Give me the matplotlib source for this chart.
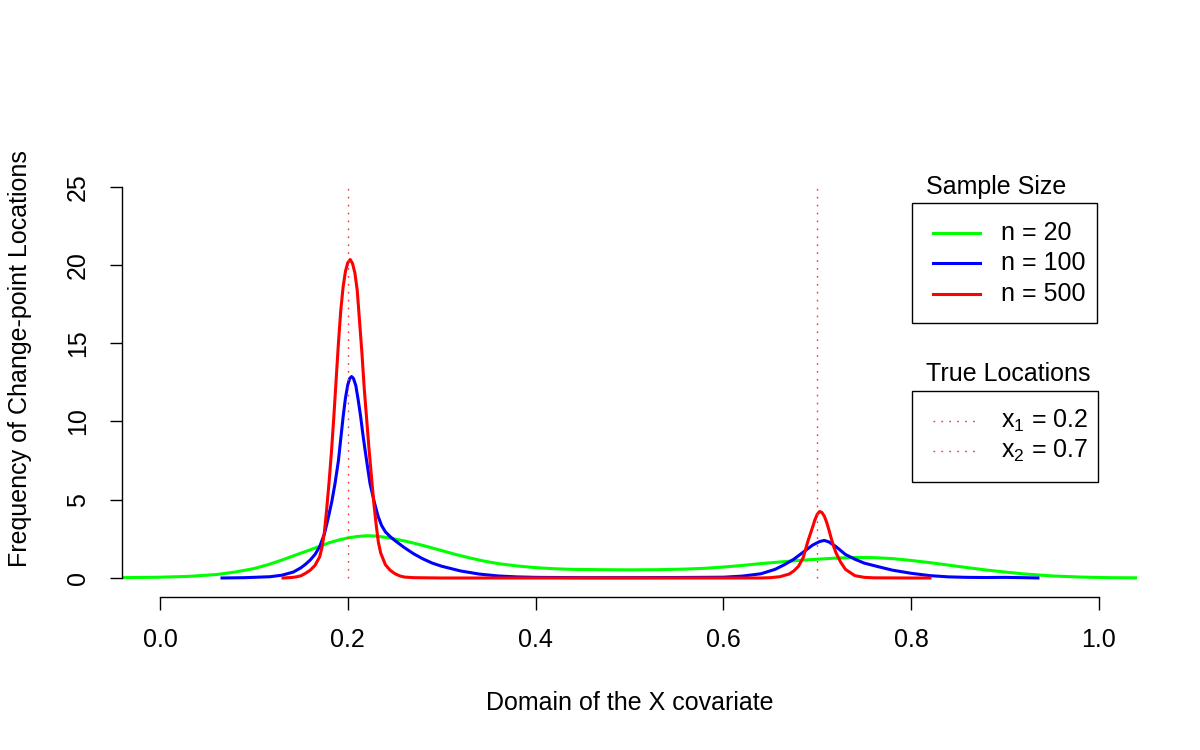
import matplotlib
matplotlib.use("Agg")
import matplotlib.pyplot as plt
from matplotlib.patches import Rectangle
from matplotlib.lines import Line2D

plt.rcParams['font.family'] = ['Liberation Sans', 'DejaVu Sans']
plt.rcParams['mathtext.fontset'] = 'custom'
plt.rcParams['mathtext.rm'] = 'Liberation Sans'

# density estimates
x_n20 = [-0.04, 0.0, 0.03, 0.06, 0.08, 0.10, 0.115, 0.13, 0.145, 0.16, 0.17, 0.18,
         0.19, 0.20, 0.21, 0.22, 0.23, 0.24, 0.25, 0.26, 0.27, 0.28, 0.30, 0.315,
         0.33, 0.345, 0.36, 0.38, 0.40, 0.42, 0.44, 0.47, 0.50, 0.53, 0.56, 0.58,
         0.60, 0.62, 0.64, 0.66, 0.68, 0.70, 0.72, 0.74, 0.76, 0.78, 0.80, 0.82,
         0.84, 0.86, 0.88, 0.90, 0.92, 0.95, 0.98, 1.01, 1.04]
y_n20 = [0.02, 0.05, 0.10, 0.22, 0.38, 0.60, 0.85, 1.15, 1.48, 1.80, 2.02, 2.25,
         2.42, 2.56, 2.65, 2.70, 2.68, 2.60, 2.49, 2.37, 2.23, 2.08, 1.75, 1.50,
         1.28, 1.08, 0.92, 0.77, 0.66, 0.59, 0.55, 0.53, 0.52, 0.53, 0.57, 0.62,
         0.70, 0.80, 0.92, 1.02, 1.12, 1.20, 1.27, 1.31, 1.30, 1.24, 1.12, 0.98,
         0.82, 0.66, 0.51, 0.38, 0.26, 0.13, 0.06, 0.02, 0.01]

x_n100 = [0.066, 0.09, 0.117, 0.13, 0.142, 0.15, 0.155, 0.16, 0.165, 0.17, 0.175,
          0.179, 0.183, 0.1864, 0.19, 0.1925, 0.195, 0.1975, 0.20, 0.202, 0.204,
          0.206, 0.2085, 0.211, 0.2137, 0.216, 0.2183, 0.221, 0.2236, 0.228, 0.2322,
          0.236, 0.24, 0.245, 0.25, 0.26, 0.27, 0.28, 0.29, 0.30, 0.32, 0.34, 0.36,
          0.38, 0.40, 0.45, 0.50, 0.55, 0.60, 0.62, 0.64, 0.655, 0.665, 0.675,
          0.685, 0.695, 0.7025, 0.7075, 0.7125, 0.72, 0.73, 0.74, 0.75, 0.765,
          0.78, 0.80, 0.82, 0.84, 0.86, 0.88, 0.90, 0.92, 0.935]
y_n100 = [0.0, 0.02, 0.08, 0.18, 0.38, 0.65, 0.88, 1.15, 1.50, 2.00, 2.80,
          3.80, 4.90, 6.05, 7.50, 8.90, 10.3, 11.5, 12.35, 12.75, 12.87,
          12.75, 12.3, 11.4, 10.3, 9.20, 8.20, 7.10, 6.05, 4.90, 3.95,
          3.35, 2.95, 2.65, 2.40, 1.95, 1.55, 1.22, 0.95, 0.75, 0.45, 0.25, 0.13,
          0.07, 0.04, 0.02, 0.02, 0.03, 0.05, 0.12, 0.27, 0.55, 0.85, 1.20,
          1.65, 2.10, 2.33, 2.40, 2.30, 2.00, 1.50, 1.20, 0.95, 0.72,
          0.50, 0.30, 0.15, 0.07, 0.04, 0.03, 0.04, 0.02, 0.0]

x_n500 = [0.131, 0.14, 0.145, 0.15, 0.155, 0.16, 0.165, 0.17, 0.1725, 0.175, 0.1775,
          0.18, 0.1825, 0.185, 0.1875, 0.19, 0.1925, 0.195, 0.1975, 0.20, 0.2025,
          0.205, 0.2075, 0.21, 0.2125, 0.215, 0.2175, 0.22, 0.2225, 0.225, 0.2275,
          0.23, 0.2325, 0.235, 0.24, 0.245, 0.25, 0.255, 0.26, 0.27, 0.30, 0.40,
          0.50, 0.60, 0.64, 0.65, 0.66, 0.67, 0.675, 0.68, 0.685, 0.69, 0.695,
          0.6975, 0.70, 0.7025, 0.705, 0.7075, 0.71, 0.7125, 0.715, 0.7175, 0.72,
          0.725, 0.73, 0.74, 0.75, 0.76, 0.80, 0.82]
y_n500 = [0.0, 0.03, 0.07, 0.14, 0.30, 0.50, 0.80, 1.35, 1.95, 2.90, 4.40,
          6.10, 8.00, 10.2, 12.6, 15.0, 17.1, 18.6, 19.6, 20.15, 20.35,
          20.1, 19.5, 18.4, 16.4, 14.4, 12.1, 10.2, 8.30, 6.60, 4.90,
          3.50, 2.30, 1.60, 0.85, 0.50, 0.28, 0.14, 0.06, 0.02, 0.0, 0.0,
          0.0, 0.0, 0.0, 0.02, 0.08, 0.25, 0.45, 0.75, 1.30, 2.35, 3.25,
          3.72, 4.08, 4.25, 4.18, 3.95, 3.55, 3.05, 2.50, 2.00, 1.60,
          1.00, 0.55, 0.15, 0.04, 0.01, 0.0, 0.0]

series_labels = ['n = 20', 'n = 100', 'n = 500']
series_colors = ['#00ff00', '#0000ff', '#ff0000']
true_locs = [0.2, 0.7]
true_labels = [r'$\mathregular{x_1}$ = 0.2', r'$\mathregular{x_2}$ = 0.7']
yticks = [0, 5, 10, 15, 20, 25]
xticks = [0.0, 0.2, 0.4, 0.6, 0.8, 1.0]

fig = plt.figure(figsize=(12, 7.5), dpi=100)
W, H = 1200, 750
ax = fig.add_axes([122 / W, (H - 597) / H, (1137 - 122) / W, (597 - 121) / H])

for xs, ys, c in zip([x_n20, x_n100, x_n500], [y_n20, y_n100, y_n500], series_colors):
    ax.plot(xs, ys, color=c, lw=2.2, solid_joinstyle='round')

dot = (0, (1.2, 4.5))
ax.vlines(true_locs, 0, 25, colors='#ff3030', linestyles=[dot], lw=1.0, zorder=3)

ax.set_xlim(-0.0405, 1.0405)
ax.set_ylim(-1.215, 29.2)
for s in ['top', 'right']:
    ax.spines[s].set_visible(False)
ax.spines['left'].set_bounds(0, 25)
ax.spines['bottom'].set_bounds(0, 1)
for s in ['left', 'bottom']:
    ax.spines[s].set_linewidth(1.0)
ax.set_xticks(xticks)
ax.set_xticklabels(['%.1f' % v for v in xticks])
ax.set_yticks(yticks)
ax.set_yticklabels([str(v) for v in yticks], rotation=90, va='center')
ax.tick_params(axis='both', length=9, width=1.0, labelsize=18)
ax.tick_params(axis='x', pad=13)
ax.tick_params(axis='y', pad=14)

ax.set_xlabel('Domain of the X covariate', fontsize=18)
ax.xaxis.set_label_coords(0.5, -(703 - 597) / 476)
ax.xaxis.label.set_va('center')
ax.set_ylabel('Frequency of Change-point Locations', fontsize=18)
ax.yaxis.set_label_coords(-(122 - 20) / 1015, 0.5)
ax.yaxis.label.set_va('center')


def fx(px):
    return px / W


def fy(py):
    return 1 - py / H


# legend: sample size
fig.text(fx(996), fy(187), 'Sample Size', fontsize=18, ha='center', va='center')
fig.patches.append(Rectangle((fx(911.5), fy(323)), fx(1097) - fx(911.5), fy(203) - fy(323),
                             transform=fig.transFigure, fill=False, lw=1.0, ec='black'))
for i, (lab, c) in enumerate(zip(series_labels, series_colors)):
    yy = fy(233 + 30.5 * i)
    fig.lines.append(Line2D([fx(933), fx(980)], [yy, yy], transform=fig.transFigure,
                            color=c, lw=2.2))
    fig.text(fx(1001), yy, lab, fontsize=18, ha='left', va='center')

# legend: true locations
fig.text(fx(1008), fy(374), 'True Locations', fontsize=18, ha='center', va='center')
fig.patches.append(Rectangle((fx(911.5), fy(481.5)), fx(1098) - fx(911.5), fy(391) - fy(481.5),
                             transform=fig.transFigure, fill=False, lw=1.0, ec='black'))
for i, lab in enumerate(true_labels):
    yy = fy(421 + 30 * i)
    fig.lines.append(Line2D([fx(933), fx(980)], [yy, yy], transform=fig.transFigure,
                            color='#ff3030', lw=1.0, linestyle=dot))
    fig.text(fx(1001), yy, lab, fontsize=18, ha='left', va='center')

fig.savefig('out.png', dpi=100)
